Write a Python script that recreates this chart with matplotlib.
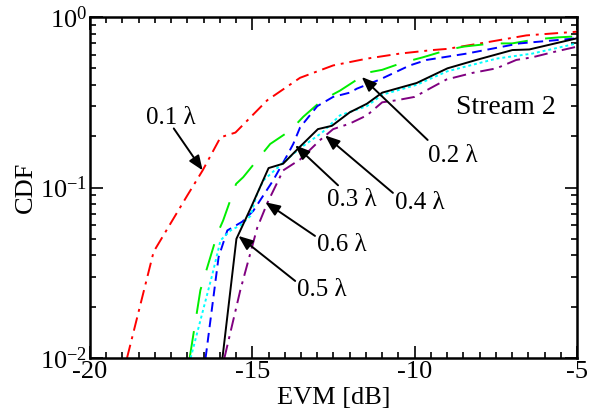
import matplotlib
matplotlib.use('Agg')
import matplotlib.pyplot as plt
from matplotlib.ticker import MultipleLocator, LogLocator

plt.rcParams['font.family'] = ['Liberation Serif', 'DejaVu Serif']
plt.rcParams['mathtext.fontset'] = 'stix'
plt.rcParams['axes.unicode_minus'] = False

# EVM [dB] and CDF, one pair of lists per spacing
x_01 = [-18.86, -18.04, -17.0, -16.53, -15.98, -15.52, -14.54, -13.53, -12.51,
        -11.47, -10.46, -9.45, -9.0, -7.79, -6.56, -5.0]
y_01 = [0.01, 0.042, 0.09, 0.126, 0.197, 0.21, 0.325, 0.44, 0.52,
        0.57, 0.61, 0.64, 0.65, 0.71, 0.78, 0.82]

x_02 = [-16.93, -16.6, -16.07, -15.9, -15.5, -15.28, -14.85, -14.45, -13.83,
        -13.43, -12.85, -12.3, -11.69, -11.5, -11.0, -10.37, -9.75, -9.0, -8.5,
        -7.6, -7.0, -6.26, -5.55, -5.0]
y_02 = [0.01, 0.025, 0.054, 0.064, 0.105, 0.115, 0.145, 0.18, 0.216,
        0.26, 0.325, 0.37, 0.44, 0.47, 0.49, 0.54, 0.58, 0.64, 0.67,
        0.70, 0.70, 0.74, 0.76, 0.77]

x_03 = [-16.44, -16.04, -15.77, -15.31, -14.97, -14.36, -13.93, -13.74, -13.53,
        -13.0, -12.51, -12.0, -11.78, -11.07, -10.15, -9.63, -8.4, -6.77, -5.0]
y_03 = [0.01, 0.039, 0.056, 0.063, 0.073, 0.11, 0.154, 0.18, 0.225,
        0.30, 0.34, 0.36, 0.38, 0.43, 0.52, 0.56, 0.61, 0.70, 0.75]

x_04 = [-16.9, -16.23, -15.98, -15.67, -15.37, -15.06, -14.85, -14.66, -14.05,
        -13.53, -12.85, -12.3, -11.47, -11.0, -9.94, -9.0, -7.48, -6.38, -5.0]
y_04 = [0.01, 0.031, 0.049, 0.056, 0.060, 0.068, 0.092, 0.11, 0.14,
        0.17, 0.21, 0.265, 0.30, 0.35, 0.40, 0.48, 0.57, 0.61, 0.70]

x_05 = [-15.92, -15.49, -15.06, -14.5, -14.05, -13.62, -12.98, -12.55, -12.0,
        -11.47, -11.0, -9.94, -8.99, -8.1, -6.99, -6.47, -5.0]
y_05 = [0.01, 0.05, 0.075, 0.13, 0.138, 0.167, 0.22, 0.23, 0.276,
        0.31, 0.36, 0.41, 0.50, 0.56, 0.64, 0.645, 0.75]

x_06 = [-15.86, -15.37, -14.85, -14.54, -14.05, -13.53, -12.91, -12.51, -12.0,
        -11.47, -11.0, -10.55, -10.0, -9.54, -9.02, -8.22, -7.48, -6.87, -6.38,
        -5.77, -5.0]
y_06 = [0.01, 0.025, 0.058, 0.081, 0.126, 0.146, 0.19, 0.22, 0.237,
        0.265, 0.316, 0.325, 0.34, 0.38, 0.43, 0.47, 0.50, 0.56, 0.58,
        0.62, 0.67]

# label text, text position, arrow tail, arrow tip
labels = ['0.1 λ', '0.2 λ', '0.3 λ', '0.4 λ', '0.5 λ', '0.6 λ']
text_pos = [(-17.52, 0.255), (-8.83, 0.154), (-11.93, 0.084),
            (-9.85, 0.081), (-12.85, 0.025), (-12.24, 0.0457)]
arrow_tail = [(-17.42, 0.222), (-9.6, 0.19), (-12.36, 0.103),
              (-10.67, 0.093), (-13.68, 0.0283), (-13.07, 0.052)]
arrow_tip = [(-16.53, 0.126), (-11.63, 0.445), (-13.68, 0.177),
             (-12.76, 0.202), (-15.43, 0.052), (-14.6, 0.082)]

fig = plt.figure(figsize=(5.96, 4.12), dpi=100)
ax = fig.add_axes([90 / 596, 1 - 358 / 412, 487 / 596, 341 / 412])

lw = 1.4
ax.plot(x_01, y_01, color='#ff0000', lw=lw, dashes=[7, 3, 1.5, 3])
ax.plot(x_02, y_02, color='#00ee00', lw=lw, dashes=[14, 9])
ax.plot(x_03, y_03, color='#0000ff', lw=lw, dashes=[5, 3])
ax.plot(x_04, y_04, color='#00ffff', lw=lw, dashes=[1.5, 1.5])
ax.plot(x_05, y_05, color='black', lw=lw)
ax.plot(x_06, y_06, color='#800080', lw=lw, dashes=[7, 3, 1.5, 3])

for lab, tp, tail, tip in zip(labels, text_pos, arrow_tail, arrow_tip):
    ax.annotate('', xy=tip, xytext=tail,
                arrowprops=dict(arrowstyle='-|>,head_length=0.8,head_width=0.32',
                                color='black', lw=1.4, mutation_scale=11,
                                shrinkA=0, shrinkB=0))
    ax.text(tp[0], tp[1], lab, fontsize=18, ha='center', va='center')

ax.text(-7.18, 0.295, 'Stream 2', fontsize=20, ha='center', va='center')

ax.set_yscale('log')
ax.set_xlim(-20, -5)
ax.set_ylim(0.01, 1)
ax.xaxis.set_major_locator(MultipleLocator(5))
ax.xaxis.set_minor_locator(MultipleLocator(0.5))
ax.yaxis.set_major_locator(LogLocator(base=10))
ax.yaxis.set_minor_locator(LogLocator(base=10, subs=range(2, 10)))

ax.tick_params(which='both', direction='in', top=True, right=True,
               labelsize=19, width=1.2)
ax.tick_params(which='major', length=9, pad=2)
ax.tick_params(which='minor', length=4.5)
for s in ax.spines.values():
    s.set_linewidth(1.8)

ax.set_xlabel('EVM [dB]', fontsize=19, labelpad=3)
ax.set_ylabel('CDF', fontsize=19, labelpad=2)

fig.savefig('out.png', dpi=100)
